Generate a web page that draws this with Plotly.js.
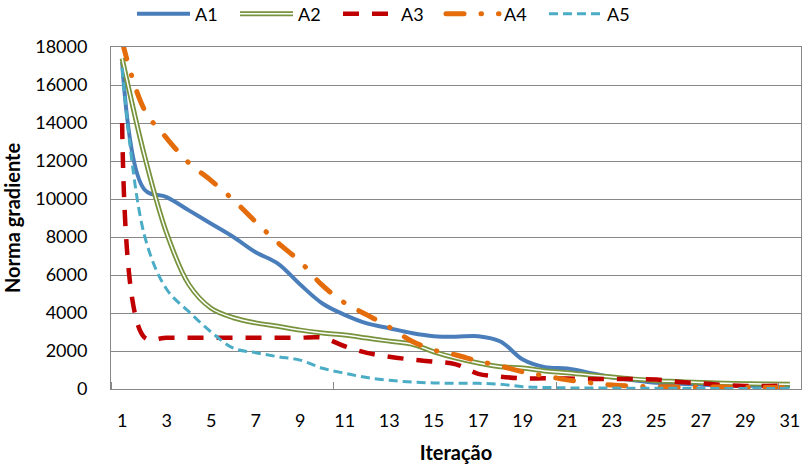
<!DOCTYPE html>
<html>
<head>
<meta charset="utf-8">
<script src="https://cdn.plot.ly/plotly-3.0.1.min.js"></script>
<style>
  html, body { margin: 0; padding: 0; background: #fff; }
  #chart { width: 805px; height: 466px; }
</style>
</head>
<body>
<div id="chart"></div>
<script>
// Gradient norm per iteration for five algorithm variants
const iteracao = [1,2,3,4,5,6,7,8,9,10,11,12,13,14,15,16,17,18,19,20,21,22,23,24,25,26,27,28,29,30,31];
const xTickVals = [1,3,5,7,9,11,13,15,17,19,21,23,25,27,29,31];

const A1 = [17200,10500,10100,9400,8700,8000,7200,6600,5500,4500,3900,3450,3200,2950,2780,2750,2780,2500,1550,1150,1080,850,620,460,330,270,230,200,180,160,150];
const A2 = [17400,12300,8200,5500,4250,3750,3480,3300,3100,2950,2840,2680,2520,2370,1960,1630,1370,1170,1100,950,860,740,630,520,440,390,340,300,280,260,250];
const A3 = [14000,2720,2700,2700,2700,2700,2700,2700,2700,2700,2250,1900,1700,1550,1440,1300,800,650,560,560,550,530,530,520,500,370,300,210,160,160,180];
const A4 = [18300,14700,13200,11900,10970,9950,8800,7700,6700,5450,4530,3900,3260,2530,2050,1790,1470,1210,900,690,480,330,210,150,120,110,100,100,90,80,60];
const A5 = [16900,8100,5250,4070,3000,2150,1910,1700,1520,1090,830,600,460,370,320,300,300,250,120,80,60,50,50,40,40,40,30,30,30,30,30];

const FONT = 'Lato, "Open Sans", sans-serif';
const GRID = '#878787';

function series(name, y, line, extra) {
  return Object.assign({
    type: 'scatter', mode: 'lines', name: name,
    x: iteracao, y: y,
    line: Object.assign({shape: 'spline', smoothing: 1}, line)
  }, extra || {});
}

const data = [
  series('A1', A1, {color: '#4A7EBB', width: 4}),
  series('A2', A2, {color: '#77933C', width: 5}),
  series('A2', A2, {color: '#FFFFFF', width: 1.5}, {showlegend: false, hoverinfo: 'skip'}),
  series('A3', A3, {color: '#C00000', width: 4.5, dash: '16px,13px'}),
  series('A4', A4, {color: '#E46C0A', width: 5, dash: '18px,17px,0.5px,17px'}),
  series('A5', A5, {color: '#4BACC6', width: 3, dash: '9px,5px'})
];

const layout = {
  width: 805, height: 466,
  margin: {l: 111, r: 4, t: 47, b: 77, autoexpand: false},
  paper_bgcolor: '#FFFFFF', plot_bgcolor: '#FFFFFF',
  font: {family: FONT, size: 18, color: '#000000'},
  showlegend: true,
  legend: {
    orientation: 'h', xref: 'container', yref: 'container',
    x: 132 / 805, y: 1 - 14 / 466, xanchor: 'left', yanchor: 'middle',
    font: {family: FONT, size: 18, color: '#000000'},
    itemwidth: 53, entrywidth: 35, entrywidthmode: 'pixels',
    bgcolor: 'rgba(0,0,0,0)', borderwidth: 0
  },
  xaxis: {
    range: [0.5, 31.5], tickmode: 'array', tickvals: xTickVals,
    ticks: '', showgrid: false, zeroline: false,
    showline: true, linecolor: GRID, linewidth: 1, mirror: true,
    ticklabelstandoff: 15,
    tickfont: {family: FONT, size: 18, color: '#000000'},
    minor: {tick0: 10.5, dtick: 10, ticks: 'inside', ticklen: 7, tickcolor: GRID, showgrid: false},
    title: {text: '<b>Iteração</b>', font: {family: FONT, size: 20, color: '#000000'}, standoff: 16}
  },
  yaxis: {
    range: [0, 18000], dtick: 2000, tick0: 0, exponentformat: 'none', tickformat: 'd',
    ticks: '', showgrid: true, gridcolor: GRID, gridwidth: 1, zeroline: false,
    showline: true, linecolor: GRID, linewidth: 1, mirror: true,
    ticklabelstandoff: 19,
    tickfont: {family: FONT, size: 18, color: '#000000'},
    title: {text: '<b>Norma gradiente</b>', font: {family: FONT, size: 20, color: '#000000'}, standoff: 12}
  }
};

Plotly.newPlot('chart', data, layout, {displayModeBar: false, staticPlot: true}).then(function (gd) {
  // rounded dash ends for the dash-dot series
  const traces = gd.querySelectorAll('.scatterlayer .trace');
  if (traces[4]) traces[4].querySelectorAll('path.js-line').forEach(p => p.style.strokeLinecap = 'round');
  const items = gd.querySelectorAll('.legend .traces');
  items.forEach(function (it) {
    const label = it.querySelector('.legendtext');
    const line = it.querySelector('path.js-line');
    if (!label || !line) return;
    if (label.textContent === 'A4') line.style.strokeLinecap = 'round';
    if (label.textContent === 'A2') {
      // double-line swatch: white core over the green stroke
      const core = line.cloneNode(true);
      core.style.stroke = '#FFFFFF';
      core.style.strokeWidth = '1.5px';
      line.parentNode.appendChild(core);
    }
  });
});
</script>
</body>
</html>
